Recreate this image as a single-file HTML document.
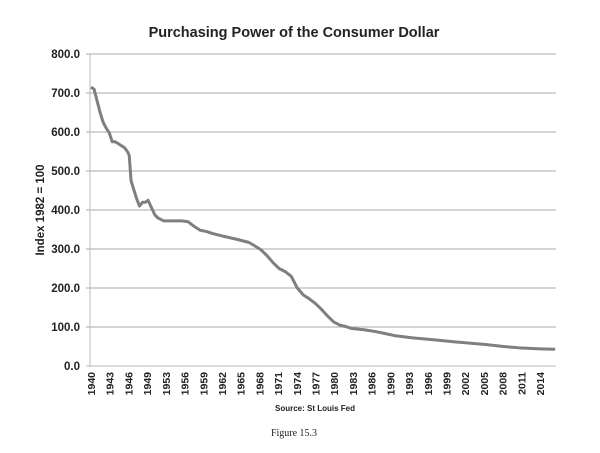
<!DOCTYPE html>
<html><head><meta charset="utf-8"><style>
body{margin:0;background:#fff;width:600px;height:453px;overflow:hidden}
svg{display:block;font-family:"Liberation Sans",sans-serif}
</style></head><body>
<svg id="chart" width="600" height="453">
<text x="294" y="37" text-anchor="middle" font-size="14.5" font-weight="bold" fill="#222">Purchasing Power of the Consumer Dollar</text>
<text transform="translate(44,210) rotate(-90)" text-anchor="middle" font-size="11.5" font-weight="bold" fill="#222">Index 1982 =  100</text>
<text x="315" y="411" text-anchor="middle" font-size="8" font-weight="bold" fill="#222">Source: St Louis Fed</text>
<text x="294" y="436" text-anchor="middle" font-size="10" font-family="Liberation Serif,serif" fill="#222">Figure 15.3</text>
<g id="grid"></g><g id="xt"></g>
</svg>
<script>
const yTicks=[0,100,200,300,400,500,600,700,800];
const xLabels=[1940,1943,1946,1949,1953,1956,1959,1962,1965,1968,1971,1974,1977,1980,1983,1986,1990,1993,1996,1999,2002,2005,2008,2011,2014];
const years=[1940,1940.5,1941,1941.5,1942,1942.5,1943,1943.5,1944,1945,1945.5,1946,1946.3,1946.6,1947,1947.5,1948,1948.5,1949,1949.4,1950,1950.5,1951,1952,1953,1954,1955,1956,1957,1958,1959,1960,1962,1964,1966,1967,1968,1969,1970,1971,1972,1973,1974,1975,1976,1977,1978,1979,1980,1981,1982,1983,1985,1987,1990,1993,1996,2000,2005,2008,2011,2014,2016.5];
const values=[715,710,680,650,625,610,598,575,575,565,560,550,540,475,455,430,410,420,420,425,405,388,380,372,372,372,372,370,358,348,345,340,332,325,317,308,298,283,265,250,242,230,200,182,172,160,145,128,113,105,101,96,93,88,78,72,68,62,55,50,46,44,43];
const NS="http://www.w3.org/2000/svg";
const svg=document.getElementById('chart');
const x=y=>91+(y-1940)*(449/74);
const yv=v=>366-v*0.39;
const grid=document.getElementById('grid');
yTicks.forEach(t=>{
 const l=document.createElementNS(NS,'line');
 
 
 l.setAttribute('x1',86);l.setAttribute('x2',556);
 l.setAttribute('y1',yv(t));l.setAttribute('y2',yv(t));
 l.setAttribute('stroke',t===0?'#bbb':'#aaa');l.setAttribute('stroke-width',1);
 grid.appendChild(l);
 const tx=document.createElementNS(NS,'text');
 
 
 tx.setAttribute('x',80);tx.setAttribute('y',yv(t)+4);tx.setAttribute('text-anchor','end');
 tx.setAttribute('font-size','11.5');tx.setAttribute('font-weight','bold');tx.setAttribute('fill','#222');
 tx.textContent=t.toFixed(1);grid.appendChild(tx);
});
const ax=document.createElementNS(NS,'line');


ax.setAttribute('x1',90);ax.setAttribute('x2',90);ax.setAttribute('y1',yv(800));ax.setAttribute('y2',367);ax.setAttribute('stroke','#bbb');
grid.appendChild(ax);
const xt=document.getElementById('xt');
xLabels.forEach((lab,i)=>{
 const px=91+i*(449/24);
 const tx=document.createElementNS(NS,'text');
 
 
 tx.setAttribute('transform',`translate(${px+4},372) rotate(-90)`);
 tx.setAttribute('text-anchor','end');tx.setAttribute('font-size','10.5');tx.setAttribute('font-weight','bold');tx.setAttribute('fill','#222');
 tx.textContent=lab;xt.appendChild(tx);
});
const p=document.createElementNS(NS,'polyline');


p.setAttribute('points',years.map((y,i)=>x(y)+','+yv(values[i])).join(' '));
p.setAttribute('fill','none');p.setAttribute('stroke','#7f7f7f');p.setAttribute('stroke-width',3);p.setAttribute('stroke-linejoin','round');
svg.appendChild(p);
</script>
</body></html>
